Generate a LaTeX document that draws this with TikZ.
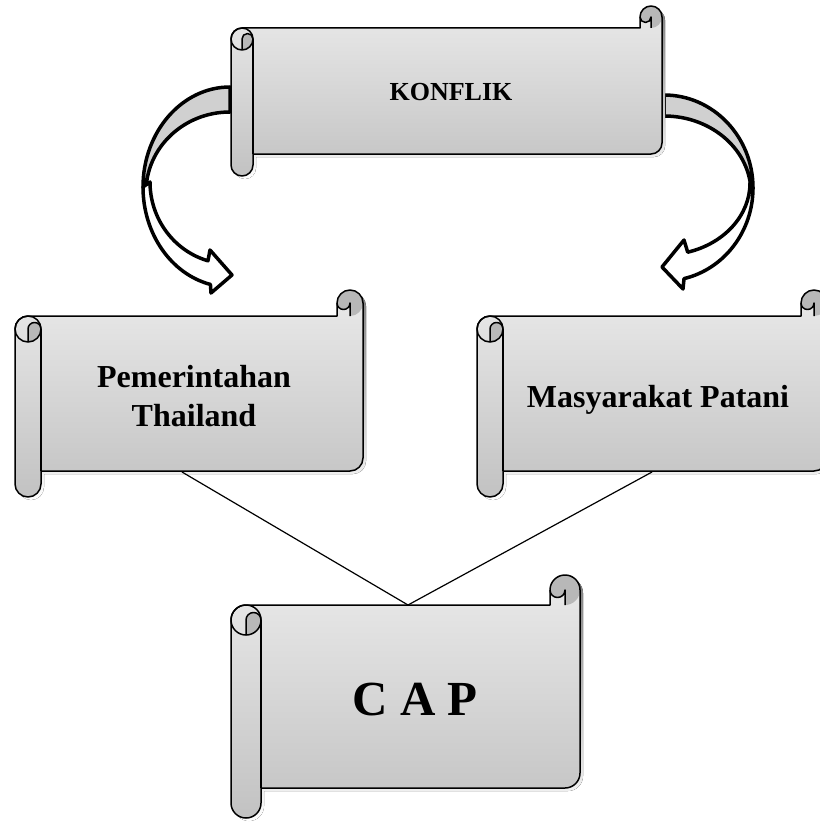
\documentclass[tikz,border=0pt]{standalone}
\usepackage{xcolor}
\usepackage{fontspec}
\setmainfont{Liberation Serif}
\usepackage{tikz}
\definecolor{scrolltop}{RGB}{234,234,234}
\definecolor{scrollbottom}{RGB}{194,194,194}
\definecolor{curl}{RGB}{184,184,184}
\definecolor{bandback}{RGB}{208,208,208}
\definecolor{shade}{RGB}{236,236,236}

\tikzset{
    scrollline/.style={draw=black,line width=1.5pt,line join=round},
    bandline/.style={draw=black,line width=3.5pt,line join=round},
    link/.style={draw=black,line width=1.2pt},
    scrolltext/.style={inner sep=0pt,text=black},
}

\newcommand{\scrollshape}[5]{%
    \pgfmathsetmacro{\scL}{#1}\pgfmathsetmacro{\scT}{#2}%
    \pgfmathsetmacro{\scR}{#3}\pgfmathsetmacro{\scB}{#4}%
    \pgfmathsetmacro{\scA}{#5}\pgfmathsetmacro{\scH}{#5/2}%
    \pgfmathsetmacro{\scQ}{#5/4}\pgfmathsetmacro{\scY}{#2+1.5*#5}%
    \def\scrollpath{(\scL+\scH,\scT+\scA) -- (\scR-\scA,\scT+\scA) -- (\scR-\scA,\scT+\scH)
        arc[start angle=180,end angle=360,radius=\scH] -- (\scR,\scB-\scA-\scH)
        arc[start angle=0,end angle=90,radius=\scH] -- (\scL+\scA,\scB-\scA) -- (\scL+\scA,\scB-\scH)
        arc[start angle=0,end angle=180,radius=\scH] -- (\scL,\scY)
        arc[start angle=180,end angle=270,radius=\scH] -- cycle}%
    \fill[shade,shift={(3,3)}] \scrollpath;
    \fill[top color=scrolltop,bottom color=scrollbottom] \scrollpath;
    \fill[curl] (\scR-\scH,\scT+\scA) arc[start angle=90,end angle=-180,radius=\scH]
        arc[start angle=180,end angle=0,radius=\scQ] -- cycle;
    \fill[curl] (\scL+\scA,\scY) arc[start angle=0,end angle=-180,radius=\scQ]
        -- (\scL+\scH,\scY+\scH) arc[start angle=90,end angle=0,radius=\scH] -- cycle;
    \draw[scrollline] \scrollpath;
    \draw[scrollline] (\scL+\scA,\scB-\scA) -- (\scL+\scA,\scY);
    \draw[scrollline] (\scL+\scH,\scY) circle[radius=\scH];
    \draw[scrollline] (\scL+\scA,\scY) arc[start angle=0,end angle=-180,radius=\scQ] -- (\scL+\scH,\scY+\scH);
    \draw[scrollline] (\scR-\scA,\scT+\scH) arc[start angle=180,end angle=0,radius=\scQ] -- (\scR-\scH,\scT+\scA);
}

\begin{document}
\begin{tikzpicture}[x=1pt,y=-1pt]
    \fill[white] (0,0) rectangle (819,824);
    \useasboundingbox (0,0) rectangle (819,824);

    % curved arrows
    \filldraw[bandline,fill=bandback] (230,87) arc[start angle=270,end angle=180,x radius=87,y radius=100]
        -- (146,192) arc[start angle=180,end angle=270,x radius=84,y radius=80] -- cycle;
    \filldraw[bandline,fill=white] (143,187) arc[start angle=180,end angle=103,x radius=87,y radius=100]
        -- (211,293) -- (232,275) -- (210,250)
        -- ([shift={(106:80 and 82)}]230,182) arc[start angle=106,end angle=180,x radius=80,y radius=82] -- cycle;
    \filldraw[bandline,fill=bandback] (664,95) arc[start angle=270,end angle=360,x radius=89,y radius=93]
        -- (751,193) arc[start angle=0,end angle=-90,x radius=87,y radius=77] -- cycle;
    \filldraw[bandline,fill=white] (753,188) arc[start angle=0,end angle=77,x radius=89,y radius=93]
        -- (683,289) -- (662,267) -- (684,240)
        -- ([shift={(74:86 and 72)}]664,183) arc[start angle=74,end angle=0,x radius=86,y radius=72] -- cycle;

    % scrolls
    \scrollshape{231}{6}{662}{176}{22}
    \scrollshape{15}{290}{363}{497}{26}
    \scrollshape{477}{290}{827}{497}{26}
    \scrollshape{231}{575}{580}{818}{30}

    \node[scrolltext,anchor=base,font=\bfseries\fontsize{26}{30}\selectfont] (konflik) at (451,101) {KONFLIK};
    \node[scrolltext,align=center,font=\bfseries\fontsize{32}{39}\selectfont] (pemerintah) at (194,396) {Pemerintahan\\Thailand};
    \node[scrolltext,anchor=base,font=\bfseries\fontsize{32}{39}\selectfont] (masyarakat) at (658,407) {Masyarakat Patani};
    \node[scrolltext,anchor=base,font=\bfseries\fontsize{49}{55}\selectfont] (cap) at (415,715) {C A P};

    \coordinate (pemerintah-foot) at (182,472);
    \coordinate (masyarakat-foot) at (652,472);
    \coordinate (cap-head) at (408,605);
    \draw[link] (pemerintah-foot) -- (cap-head) -- (masyarakat-foot);
\end{tikzpicture}
\end{document}
